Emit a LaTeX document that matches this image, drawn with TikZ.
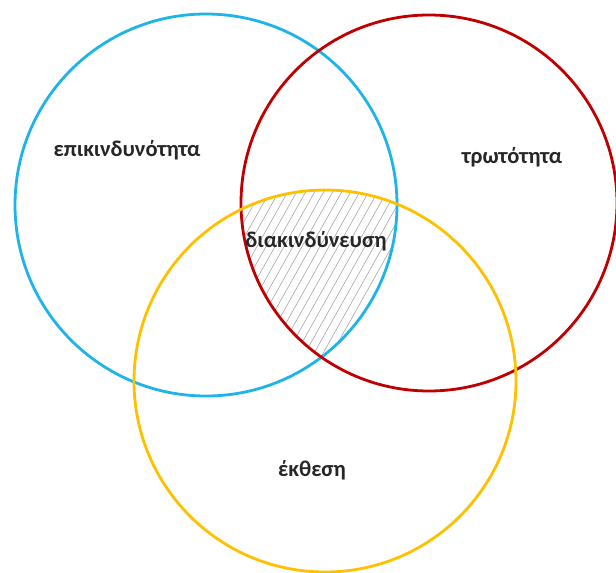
\documentclass[tikz,border=0pt]{standalone}
\usepackage{fontspec}
\setmainfont{Carlito}
\definecolor{cblue}{HTML}{1FB4E8}
\definecolor{cred}{HTML}{C00000}
\definecolor{cyellow}{HTML}{FFC000}
\begin{document}
\begin{tikzpicture}[x=1pt,y=-1pt,
  ring/.style={line width=2.8pt},
  lbl/.style={font=\bfseries\fontsize{22.5}{26}\selectfont, text=black!85, inner sep=0pt},
  hatchline/.style={gray!70, line width=0.6pt}]
\useasboundingbox (0,0) rectangle (616,573);
\coordinate (cb) at (206,205);
\coordinate (cr) at (429,203);
\coordinate (cy) at (325,381);
% hatched triple intersection
\begin{scope}
  \clip (cb) circle (191);
  \clip (cr) circle (188);
  \clip (cy) circle (191);
  \foreach \i in {-30,...,40}
    \draw[hatchline] (200+\i*9,380) -- ++(118,-210);
\end{scope}
\node[draw=cblue, ring, circle, minimum size=382pt] (blue) at (cb) {};
\node[draw=cred, ring, circle, minimum size=376pt] (red) at (cr) {};
\node[draw=cyellow, ring, circle, minimum size=382pt] (yellow) at (cy) {};
\node[lbl] (t1) at (127,150) {επικινδυνότητα};
\node[lbl] (t2) at (512,157) {τρωτότητα};
\node[lbl] (t3) at (316,241) {διακινδύνευση};
\node[lbl] (t4) at (312,470) {έκθεση};
\end{tikzpicture}
\end{document}
